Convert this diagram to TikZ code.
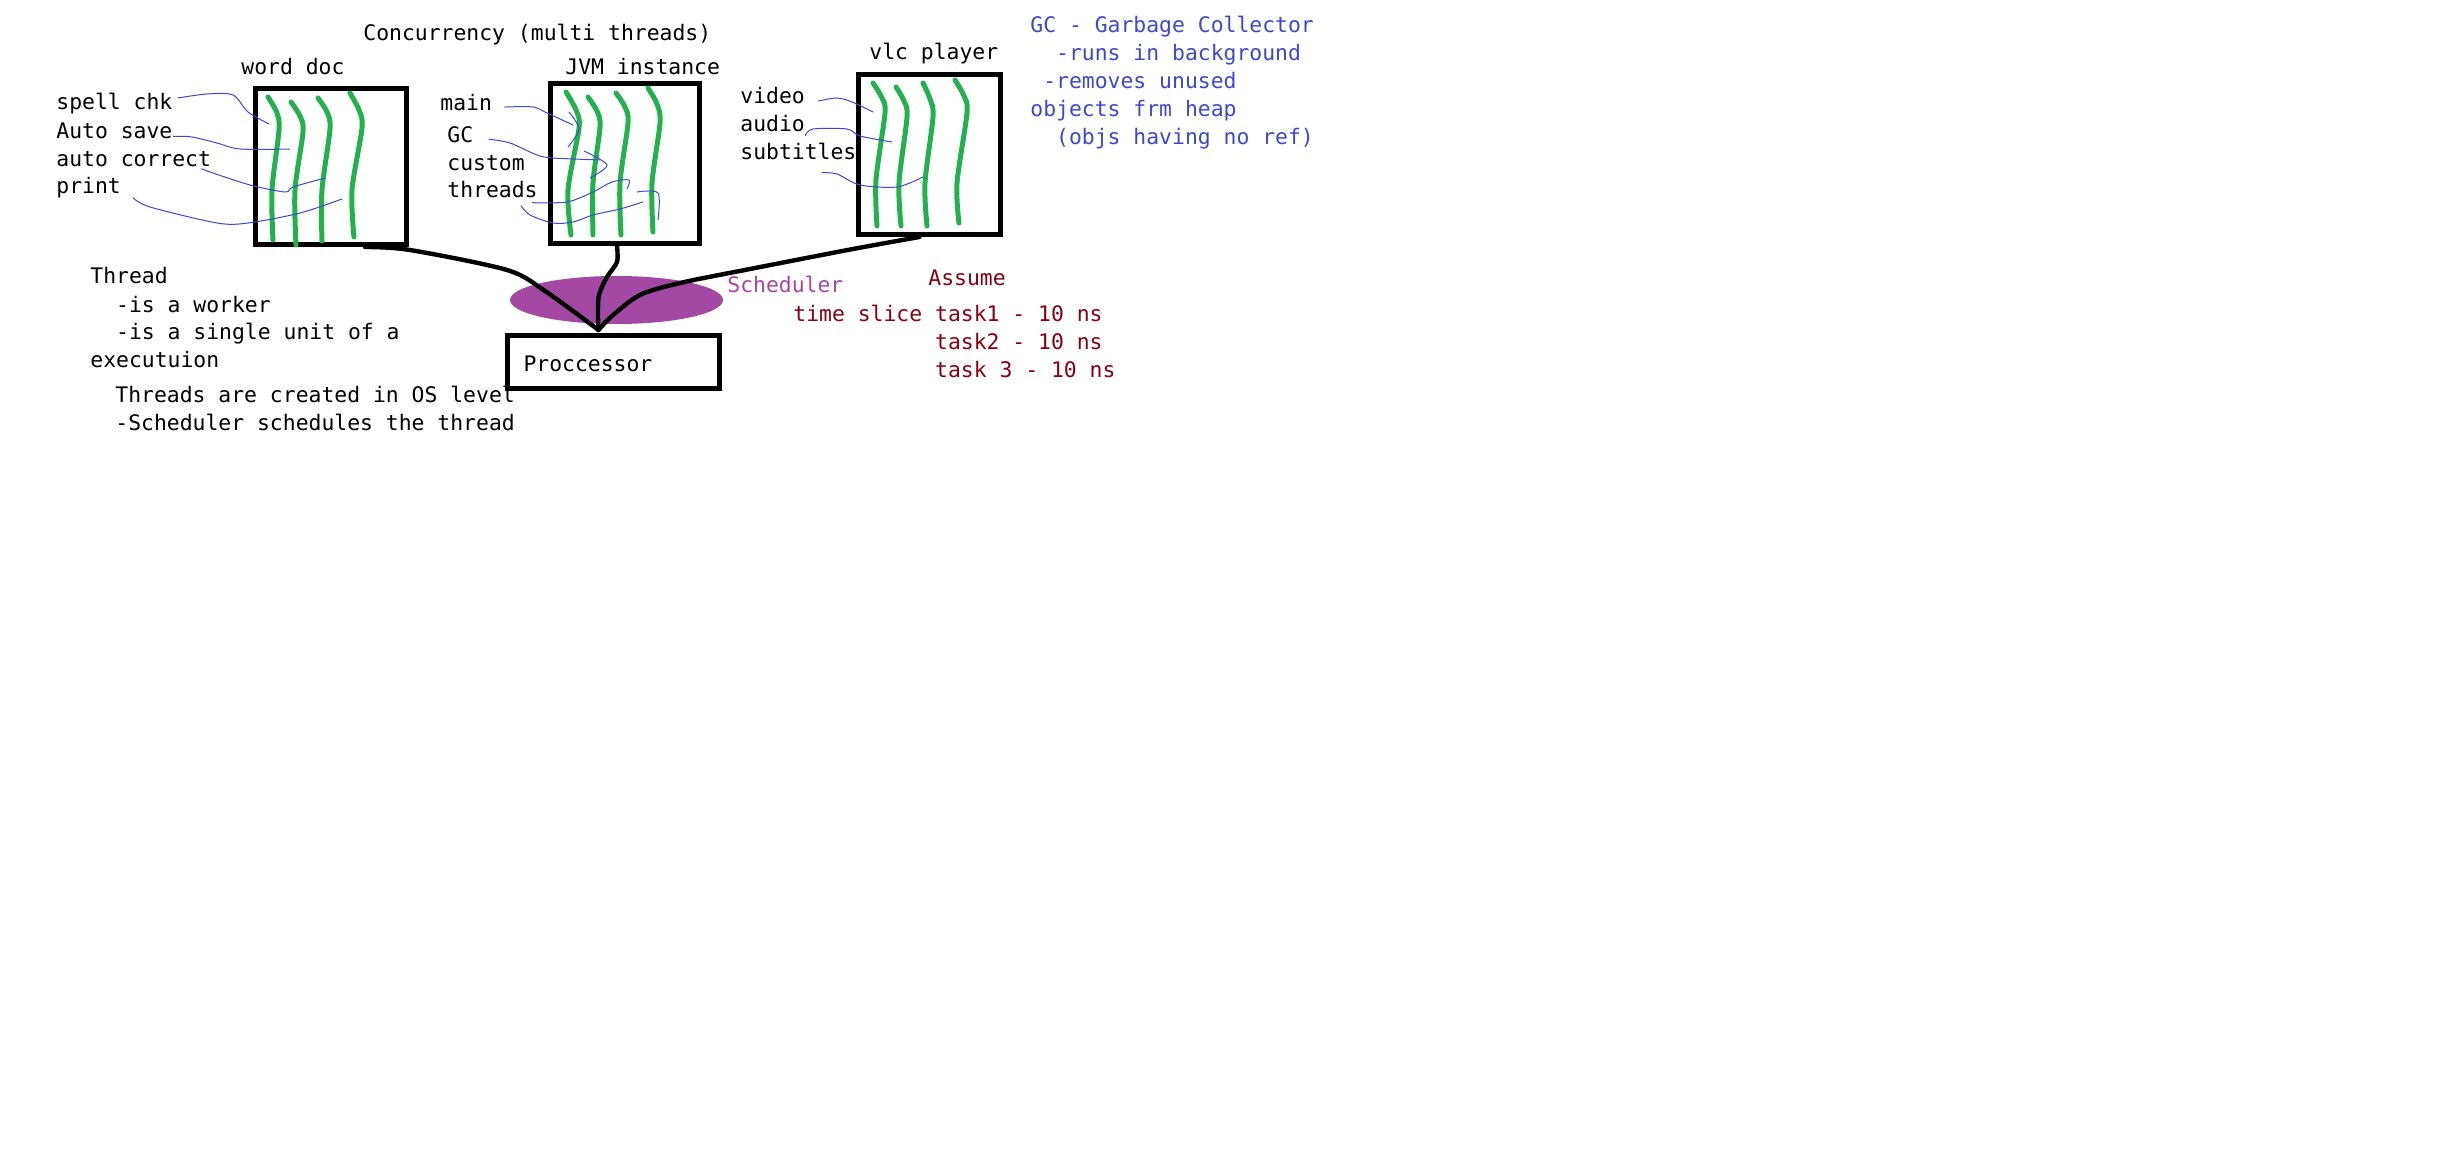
\documentclass[tikz,border=0pt]{standalone}
\usepackage{fontspec}
\setmainfont{DejaVu Sans Mono}
\usetikzlibrary{calc,shapes.geometric}
\definecolor{paintgreen}{HTML}{22B14C}
\definecolor{paintblue}{HTML}{3F48CC}
\definecolor{paintpurple}{HTML}{A349A4}
\definecolor{paintred}{HTML}{880015}
\newcommand\indentby[1]{\hspace*{#1\fontcharwd\font`0}}
\tikzset{
	txt/.style={anchor=base west, inner sep=0pt, align=left, font=\fontsize{10.7}{14}\selectfont},
	procbox/.style={draw, line width=2.5pt, inner sep=0pt},
	thread/.style={draw=paintgreen, line width=2.5pt, line cap=round},
	pointer/.style={draw=paintblue, line width=0.5pt},
	link/.style={draw=black, line width=2.2pt, line cap=round, line join=round},
}

\begin{document}
\begin{tikzpicture}[x=0.5pt, y=-0.5pt]
		%%%%% START %%%%%
		
		\fill[white] (0,0) rectangle (2440,1176);
		\useasboundingbox (0,0) rectangle (2440,1176);
		
		\node[txt] (title) at (363,41) {Concurrency (multi threads)};
		\node[txt] (wordlbl) at (241,75) {word doc};
		\node[txt] (jvmlbl) at (565,75) {JVM instance};
		\node[txt] (vlclbl) at (869,60) {vlc player};
		
		\node[procbox, minimum width=75.5pt, minimum height=78pt] (word) at (331,166.5) {};
		\node[procbox, minimum width=74.5pt, minimum height=80pt] (jvm) at (625,163.5) {};
		\node[procbox, minimum width=71pt, minimum height=80pt] (vlc) at (929.5,154.5) {};
		
		% threads of each process
		\draw[thread] plot[smooth] coordinates {(268,97) (277,113) (279,130) (272,190) (273,240)};
		\draw[thread] plot[smooth] coordinates {(291,102) (300,116) (303,132) (295,190) (296,245)};
		\draw[thread] plot[smooth] coordinates {(318,98) (327,112) (330,129) (322,190) (322,241)};
		\draw[thread] plot[smooth] coordinates {(350,93) (359,110) (362,128) (352,190) (354,237)};
		
		\draw[thread] plot[smooth] coordinates {(566,92) (576,110) (579,128) (568,190) (571,235)};
		\draw[thread] plot[smooth] coordinates {(588,97) (597,111) (600,127) (593,183) (593,235)};
		\draw[thread] plot[smooth] coordinates {(616,93) (625,107) (628,123) (620,183) (621,235)};
		\draw[thread] plot[smooth] coordinates {(648,88) (657,104) (660,123) (652,183) (653,232)};
		
		\draw[thread] plot[smooth] coordinates {(873,83) (882,98) (885,113) (876,180) (877,226)};
		\draw[thread] plot[smooth] coordinates {(896,87) (904,101) (907,117) (899,183) (901,226)};
		\draw[thread] plot[smooth] coordinates {(923,83) (930,99) (933,117) (925,183) (927,226)};
		\draw[thread] plot[smooth] coordinates {(955,80) (964,96) (967,113) (957,183) (959,223)};
		
		% word doc threads
		\node[txt] (spell) at (56,110) {spell chk};
		\node[txt] (autosave) at (56,139) {Auto save};
		\node[txt] (autocorr) at (56,167) {auto correct};
		\node[txt] (print) at (56,194) {print};
		
		\draw[pointer] plot[smooth] coordinates {($(spell.east)+(5,-6)$) (207,94) (233,95) (248,112) (269,124)};
		\draw[pointer] plot[smooth] coordinates {($(autosave.east)+(0,5)$) (192,137) (217,143) (240,149) (290,149)};
		\draw[pointer] plot[smooth] coordinates {($(autocorr.south east)+(-10,1)$) (213,173) (250,185) (285,192) (293,187) (325,178)};
		\draw[pointer] plot[smooth] coordinates {($(print.south east)+(12,-1)$) (150,207) (217,223) (248,223) (300,213) (342,199)};
		
		% JVM threads
		\node[txt] (main) at (440,111) {main};
		\node[txt] (gc) at (447,143) {GC};
		\node[txt] (custom) at (447,171) {custom};
		\node[txt] (threads) at (447,198) {threads};
		
		\draw[pointer] plot[smooth] coordinates {($(main.east)+(12,4)$) (533,107) (547,113) (573,125)};
		\draw[pointer] plot[smooth] coordinates {(569,112) (579,129) (568,147)};
		\draw[pointer] plot[smooth] coordinates {($(gc.east)+(15,4)$) (510,143) (537,155) (553,158) (600,160)};
		\draw[pointer] plot[smooth] coordinates {(584,151) (607,165) (590,178)};
		\draw[pointer] plot[smooth] coordinates {($(threads.south east)+(-6,4)$) (567,202) (593,192) (612,182) (629,180) (627,189)};
		\draw[pointer] plot[smooth] coordinates {($(threads.south east)+(-17,7)$) (530,215) (553,223) (573,222) (593,215) (620,209) (643,202)};
		\draw[pointer] plot[smooth] coordinates {(637,192) (658,193) (658,220)};
		
		% vlc threads
		\node[txt] (video) at (740,104) {video};
		\node[txt] (audio) at (740,132) {audio};
		\node[txt] (subtitles) at (740,160) {subtitles};
		
		\draw[pointer] plot[smooth] coordinates {($(video.east)+(13,5)$) (837,98) (852,102) (873,112)};
		\draw[pointer] plot[smooth] coordinates {($(audio.south east)+(0,3)$) (813,129) (847,129) (860,136) (892,142)};
		\draw[pointer] plot[smooth] coordinates {($(subtitles.south east)+(-35,12)$) (837,174) (860,185) (897,187) (923,177)};
		
		% notes (base anchor sits on the last line)
		\node[txt, text=paintblue] (gcnote) at (1030,145) {GC - Garbage Collector\\\indentby{2}-runs in background\\\indentby{1}-removes unused\\objects frm heap\\\indentby{2}(objs having no ref)};
		\node[txt] (threadnote) at (90,368) {Thread\\\indentby{2}-is a worker\\\indentby{2}-is a single unit of a\\executuion};
		\node[txt] (osnote) at (115,430) {Threads are created in OS level\\-Scheduler schedules the thread};
		
		\node[txt, text=paintred] (assume) at (928,286) {Assume};
		\node[txt, text=paintred] (slice) at (793,378) {time slice task1 - 10 ns\\\indentby{11}task2 - 10 ns\\\indentby{11}task 3 - 10 ns};
		
		% scheduler and processor
		\node[ellipse, fill=paintpurple, minimum width=106.5pt, minimum height=24pt, inner sep=0pt] (sched) at (616.5,300) {};
		\node[txt, text=paintpurple] (schedlbl) at (727,293) {Scheduler};
		
		\node[procbox, minimum width=106pt, minimum height=26.5pt, text width=90pt, inner xsep=8pt, align=left, text height=12pt, text depth=2.5pt, font=\fontsize{10.7}{14}\selectfont] (cpu) at (613.5,362) {Proccessor};
		\coordinate (tip) at ($(cpu.north)+(-15,-3)$);
		
		\draw[link] plot[smooth] coordinates {($(word.south)+(34,0)$) (410,250) (507,270) (545,291) (tip)};
		\draw[link] plot[smooth] coordinates {($(jvm.south)+(-8,0)$) (617,262) (607,277) (599,295) (598,315) (tip)};
		\draw[link] plot[smooth] coordinates {($(vlc.south)+(-10,0)$) (853,249) (750,269) (680,283) (640,295) (612,316) (tip)};
		
		%%%%% END %%%%%
\end{tikzpicture}
\end{document}
